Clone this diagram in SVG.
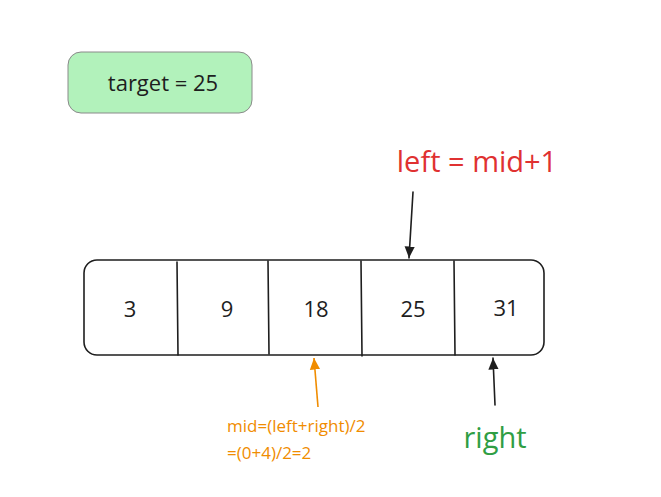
<svg xmlns="http://www.w3.org/2000/svg" width="661" height="497" viewBox="0 0 661 497">
<style>
text{font-family:"Open Sans","Noto Sans",sans-serif;}
.n{font-size:22px;fill:#1e1e1e;text-anchor:middle}
.ln{stroke:#1e1e1e;stroke-width:1.6;fill:none;stroke-linecap:round}
</style>
<defs>
<marker id="ak" viewBox="0 0 10 10" refX="9" refY="5" markerWidth="8" markerHeight="8" orient="auto"><path d="M0,1 L9,5 L0,9 z" fill="#1e1e1e"/></marker>
<marker id="ao" viewBox="0 0 10 10" refX="9" refY="5" markerWidth="8" markerHeight="8" orient="auto"><path d="M0,1 L9,5 L0,9 z" fill="#f08c00"/></marker>
</defs>
<rect width="661" height="497" fill="#fff"/>
<g id="target"><rect x="68" y="52" width="184" height="61" rx="13" fill="#b2f2bb" stroke="#8a8a8a" stroke-width="1"/><text x="163" y="91" font-size="22" fill="#1e1e1e" text-anchor="middle">target = 25</text></g>
<g id="array">
<rect x="84" y="260" width="460" height="95" rx="13" class="ln"/>
<path d="M177,262 L178,355 M268,261 L269,354 M361,261 L362,356 M454,261 L455,355" class="ln"/>
<text class="n" x="130" y="317">3</text>
<text class="n" x="227" y="317">9</text>
<text class="n" x="316" y="317">18</text>
<text class="n" x="413" y="317">25</text>
<text class="n" x="506" y="316">31</text>
</g>
<g id="leftlabel"><text x="477" y="172" font-size="29" fill="#e03131" text-anchor="middle">left = mid+1</text></g>
<g id="midlabel"><text x="227" y="432" font-size="17" fill="#f08c00">mid=(left+right)/2</text><text x="227" y="459" font-size="17" fill="#f08c00">=(0+4)/2=2</text></g>
<g id="rightlabel"><text x="495" y="448" font-size="29" fill="#2f9e44" text-anchor="middle">right</text></g>
<g id="connectors">
<path d="M413,192 L409,258" class="ln" marker-end="url(#ak)"/>
<path d="M318,407 L314,358" stroke="#f08c00" stroke-width="1.6" fill="none" marker-end="url(#ao)"/>
<path d="M495,405 L493,358" class="ln" marker-end="url(#ak)"/>
</g>
</svg>
